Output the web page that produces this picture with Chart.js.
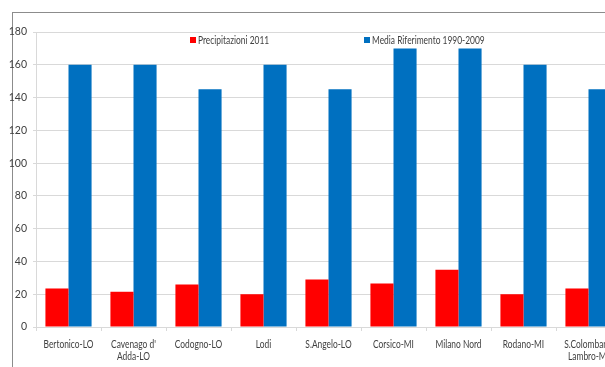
<!DOCTYPE html>
<html>
<head>
<meta charset="utf-8">
<script src="https://cdn.jsdelivr.net/npm/chart.js@4/dist/chart.umd.min.js"></script>
<style>
  html, body { margin: 0; padding: 0; background: #fff; overflow: hidden; }
  #wrap { position: relative; width: 605px; height: 367px; overflow: hidden; }
  #frame { position: absolute; left: 12px; top: 12px; width: 700px; height: 400px;
           border-left: 1px solid #8c8c8c; border-top: 1px solid #8c8c8c; }
  #box { position: absolute; left: 0; top: 0; width: 640px; height: 367px; }
</style>
</head>
<body>
<div id="wrap">
  <div id="frame"></div>
  <div id="box"><canvas id="chart"></canvas></div>
</div>
<script>
'use strict';

var stations = [
  'Bertonico-LO', ["Cavenago d'", 'Adda-LO'], 'Codogno-LO', 'Lodi', 'S.Angelo-LO',
  'Corsico-MI', 'Milano Nord', 'Rodano-MI', ['S.Colombano', 'Lambro-MI']
];
var precip2011 = [23.5, 21.5, 26, 20, 29, 26.5, 35, 20, 23.5];
var mediaRif = [160, 160, 145, 160, 145, 170, 170, 160, 145];
var seriesNames = ['Precipitazioni 2011', 'Media Riferimento 1990-2009'];
var seriesColors = ['#ff0000', '#0070c0'];

var fontFamily = 'Lato, sans-serif';
var textColor = '#404040';
var squeeze = 0.8; // narrow the text, Calibri-like

function narrowText(ctx, text, x, y) {
  ctx.save();
  ctx.translate(x, y);
  ctx.scale(squeeze, 1);
  ctx.fillText(text, 0, 0);
  ctx.restore();
}

// legend sits inside the plot, Excel style, and the category labels are narrowed
var narrowLabels = {
  id: 'narrowLabels',
  afterDraw: function(chart) {
    var ctx = chart.ctx;
    var xScale = chart.scales.x;
    var legendX = [190, 364];
    ctx.save();
    ctx.font = '10.5px ' + fontFamily;
    ctx.textBaseline = 'middle';

    seriesNames.forEach(function(name, i) {
      ctx.fillStyle = seriesColors[i];
      ctx.fillRect(legendX[i], 37, 6, 6);
      ctx.fillStyle = textColor;
      ctx.textAlign = 'left';
      narrowText(ctx, name, legendX[i] + 8, 40.5);
    });

    ctx.textAlign = 'center';
    chart.data.labels.forEach(function(label, i) {
      var x = xScale.getPixelForValue(i);
      var lines = Array.isArray(label) ? label : [label];
      lines.forEach(function(line, j) {
        narrowText(ctx, line, x, xScale.top + 17.5 + j * 12);
      });
    });
    ctx.restore();
  }
};

new Chart(document.getElementById('chart'), {
  type: 'bar',
  data: {
    labels: stations,
    datasets: [
      { label: seriesNames[0], data: precip2011, backgroundColor: seriesColors[0] },
      { label: seriesNames[1], data: mediaRif, backgroundColor: seriesColors[1] }
    ]
  },
  options: {
    responsive: true,
    maintainAspectRatio: false,
    animation: false,
    layout: { padding: { top: 32, right: 19, bottom: 0, left: 0 } },
    datasets: {
      bar: { categoryPercentage: 0.71, barPercentage: 1.0 }
    },
    plugins: {
      legend: { display: false },
      tooltip: { enabled: false }
    },
    scales: {
      x: {
        grid: { offset: true, drawOnChartArea: false, color: '#d9d9d9', tickLength: 4 },
        border: { color: '#d9d9d9' },
        ticks: { display: false },
        afterFit: function(scale) { scale.height = 40; }
      },
      y: {
        min: 0,
        max: 180,
        ticks: { stepSize: 20, color: textColor, font: { family: fontFamily, size: 10.5 }, padding: 6 },
        grid: { color: '#d9d9d9', tickLength: 3 },
        border: { color: '#d9d9d9' },
        afterFit: function(scale) { scale.width = 36; }
      }
    }
  },
  plugins: [narrowLabels]
});
</script>
</body>
</html>
